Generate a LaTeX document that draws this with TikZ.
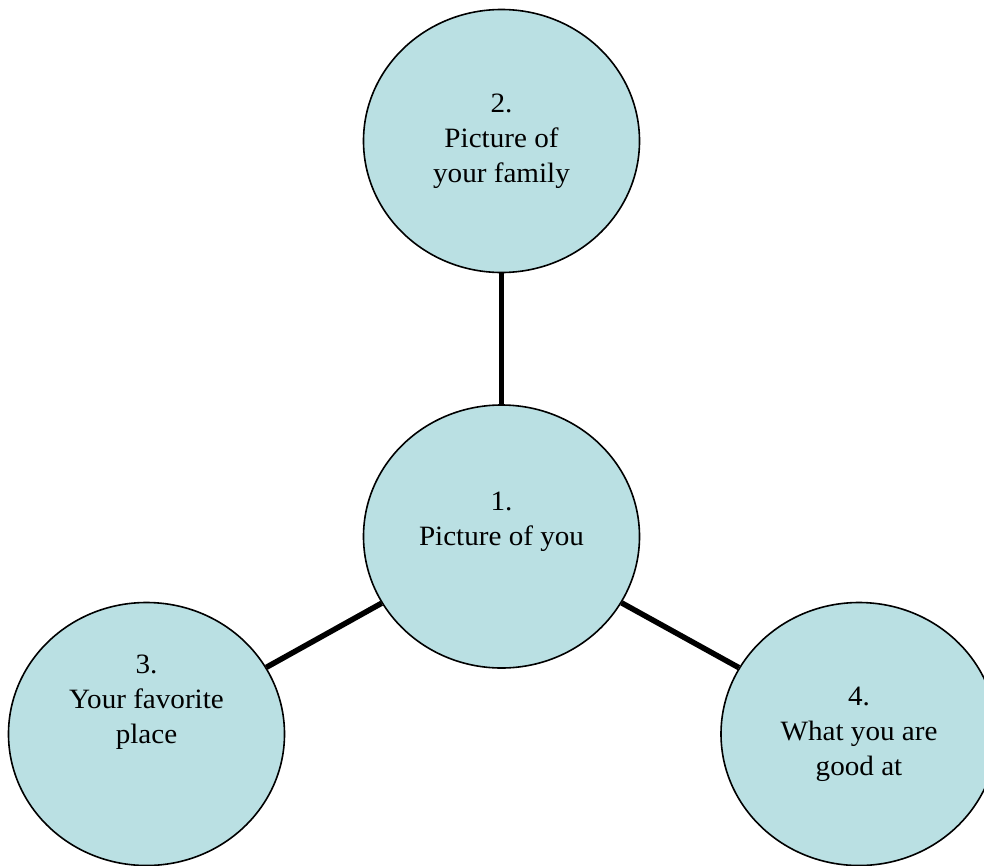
\documentclass[tikz,border=0pt]{standalone}
\usepackage{fontspec}
\setmainfont{Liberation Serif}[FakeStretch=1.04]
\usetikzlibrary{shapes.geometric}
\definecolor{bubble}{RGB}{186,224,227}

\begin{document}
\begin{tikzpicture}[x=1pt,y=-1pt]
		\useasboundingbox (0,0) rectangle (984,865);
		\begin{scope}[every node/.style={ellipse,draw=black,line width=1.6pt,fill=bubble,
				minimum width=276pt,minimum height=263pt,inner sep=0pt,align=center,
				font=\fontsize{28}{35}\selectfont}]
			\node (you) at (501.5,536.5) {1.\\Picture of you\\~};
			\node (family) at (501.5,141) {2.\\Picture of\\your family};
			\node (place) at (146.5,734) {3.\\Your favorite\\place\\~\\~};
			\node (good) at (859,734) {4.\\What you are\\good at};
		\end{scope}
		\begin{scope}[every edge/.style={draw,line width=5.5pt}]
			\path (you) edge (family);
			\path (you) edge (place);
			\path (you) edge (good);
		\end{scope}
	\end{tikzpicture}
\end{document}
